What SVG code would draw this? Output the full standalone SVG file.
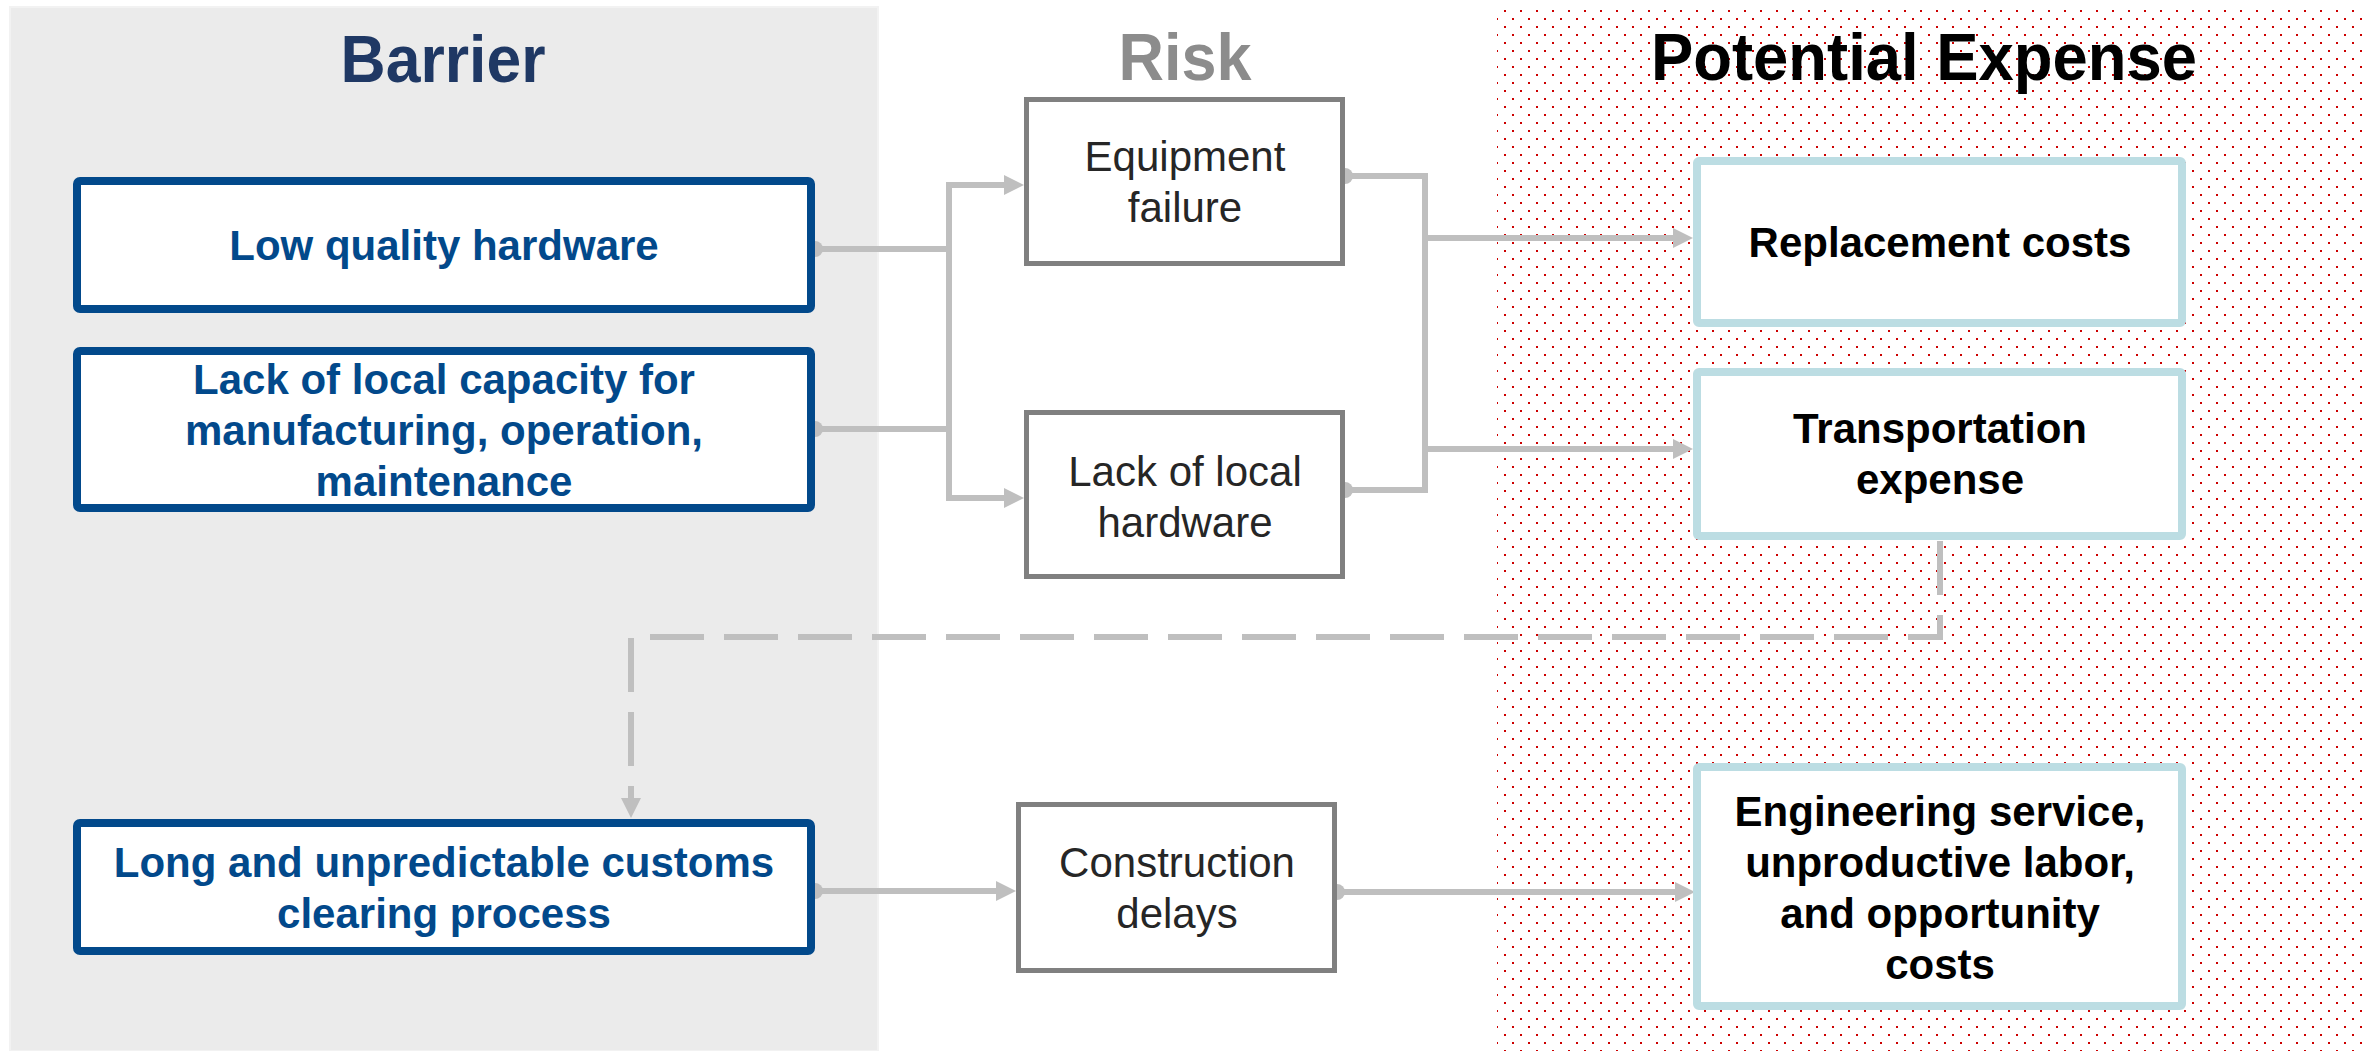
<svg xmlns="http://www.w3.org/2000/svg" width="2367" height="1051" viewBox="0 0 2367 1051">
  <defs>
    <style>
      text { font-family: "Liberation Sans", Arial, sans-serif; text-anchor: middle; }
      .title { font-size: 67px; font-weight: bold; }
      .barrier rect { fill: #ffffff; stroke: #02498b; stroke-width: 8; }
      .barrier text { font-size: 42px; font-weight: bold; fill: #02498b; }
      .risk rect { fill: #ffffff; stroke: #808080; stroke-width: 5; }
      .risk text { font-size: 42px; fill: #262626; }
      .expense rect { fill: #ffffff; stroke: #bcdde3; stroke-width: 8; }
      .expense text { font-size: 42px; font-weight: bold; fill: #000000; }
      .conn path { fill: none; stroke: #bfbfbf; stroke-width: 6; }
      .conn .arrow { marker-end: url(#ah); }
      .conn .dash { stroke-dasharray: 54 20; }
      .conn circle { fill: #bfbfbf; }
    </style>
    <pattern id="dots" patternUnits="userSpaceOnUse" x="0" y="0" width="16" height="16">
      <rect x="8" y="2" width="2" height="2" fill="#cc0000" shape-rendering="crispEdges"/>
      <rect x="0" y="10" width="2" height="2" fill="#cc0000" shape-rendering="crispEdges"/>
    </pattern>
    <marker id="ah" markerUnits="userSpaceOnUse" markerWidth="20" markerHeight="20" viewBox="0 0 20 20" refX="0" refY="10" orient="auto">
      <path d="M0,0 L20,10 L0,20 z" fill="#bfbfbf"/>
    </marker>
  </defs>

  <rect x="0" y="0" width="2367" height="1051" fill="#ffffff"/>

  <g id="panels">
    <rect x="10" y="7" width="868" height="1044" fill="#ebebeb" stroke="#f2f2f2" stroke-width="2"/>
    <rect x="1497" y="8" width="870" height="1043" fill="url(#dots)"/>
  </g>

  <g id="titles">
    <text class="title" x="443" y="82" fill="#1f3864" textLength="205" lengthAdjust="spacingAndGlyphs">Barrier</text>
    <text class="title" x="1185" y="80" fill="#8c8c8c" textLength="133" lengthAdjust="spacingAndGlyphs">Risk</text>
    <text class="title" x="1924" y="80" fill="#000000" textLength="546" lengthAdjust="spacingAndGlyphs">Potential Expense</text>
  </g>

  <g id="connectors" class="conn">
    <circle cx="815" cy="249" r="8"/>
    <circle cx="815" cy="429" r="8"/>
    <circle cx="1345" cy="176" r="8"/>
    <circle cx="1345" cy="490" r="8"/>
    <circle cx="815" cy="891" r="8"/>
    <circle cx="1337" cy="892" r="8"/>
    <path d="M814,249 H952"/>
    <path d="M814,429 H952"/>
    <path d="M949,182 V501"/>
    <path class="arrow" d="M946,185 H1004"/>
    <path class="arrow" d="M946,498 H1004"/>
    <path d="M1343,176 H1428"/>
    <path d="M1343,490 H1428"/>
    <path d="M1425,173 V493"/>
    <path class="arrow" d="M1422,238 H1673"/>
    <path class="arrow" d="M1422,449 H1673"/>
    <path class="dash arrow" d="M1940,541 V637 H631 V798"/>
    <path class="arrow" d="M814,891 H996"/>
    <path class="arrow" d="M1336,892 H1675"/>
  </g>

  <g id="barrier-low-quality" class="barrier">
    <rect x="77" y="181" width="734" height="128" rx="3"/>
    <text x="444" y="260">Low quality hardware</text>
  </g>
  <g id="barrier-local-capacity" class="barrier">
    <rect x="77" y="351" width="734" height="157" rx="3"/>
    <text x="444" y="394">Lack of local capacity for</text>
    <text x="444" y="445">manufacturing, operation,</text>
    <text x="444" y="496">maintenance</text>
  </g>
  <g id="barrier-customs" class="barrier">
    <rect x="77" y="823" width="734" height="128" rx="3"/>
    <text x="444" y="877">Long and unpredictable customs</text>
    <text x="444" y="928">clearing process</text>
  </g>

  <g id="risk-equipment-failure" class="risk">
    <rect x="1026.5" y="99.5" width="316" height="164"/>
    <text x="1185" y="171">Equipment</text>
    <text x="1185" y="222">failure</text>
  </g>
  <g id="risk-local-hardware" class="risk">
    <rect x="1026.5" y="412.5" width="316" height="164"/>
    <text x="1185" y="486">Lack of local</text>
    <text x="1185" y="537">hardware</text>
  </g>
  <g id="risk-construction-delays" class="risk">
    <rect x="1018.5" y="804.5" width="316" height="166"/>
    <text x="1177" y="877">Construction</text>
    <text x="1177" y="928">delays</text>
  </g>

  <g id="expense-replacement" class="expense">
    <rect x="1697" y="161" width="485" height="162" rx="2"/>
    <text x="1940" y="257">Replacement costs</text>
  </g>
  <g id="expense-transportation" class="expense">
    <rect x="1697" y="372" width="485" height="164" rx="2"/>
    <text x="1940" y="443">Transportation</text>
    <text x="1940" y="494">expense</text>
  </g>
  <g id="expense-engineering" class="expense">
    <rect x="1697" y="767" width="485" height="239" rx="2"/>
    <text x="1940" y="826">Engineering service,</text>
    <text x="1940" y="877">unproductive labor,</text>
    <text x="1940" y="928">and opportunity</text>
    <text x="1940" y="979">costs</text>
  </g>
</svg>
